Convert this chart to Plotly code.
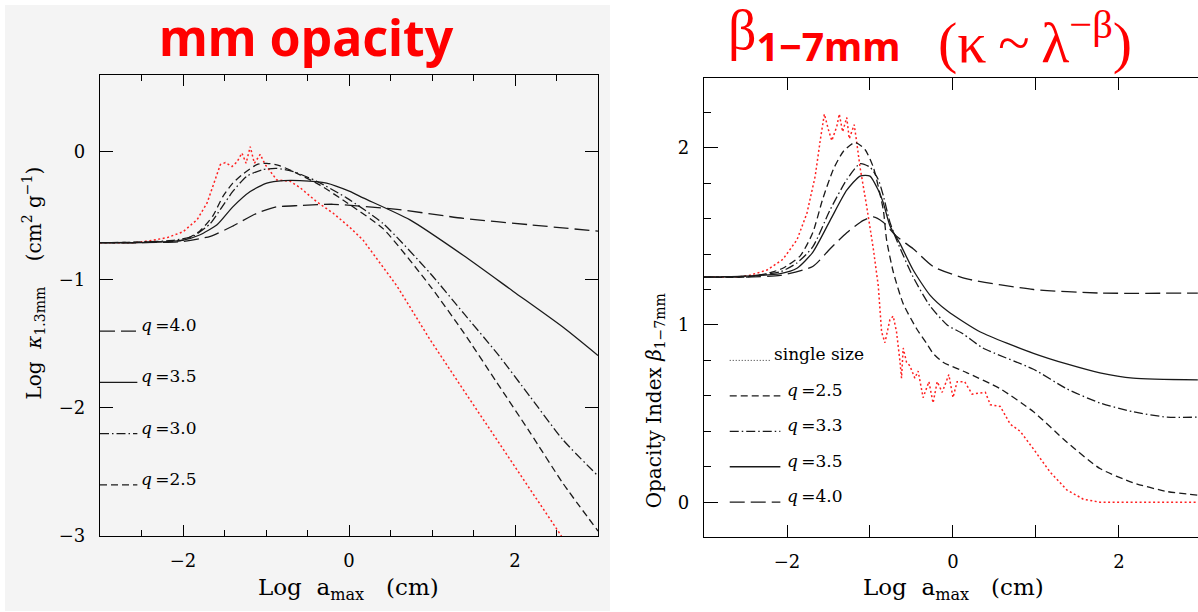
import plotly.graph_objects as go

W, H = 1198, 612          # reference picture size (layout coordinates are expressed in it)
FIG_H = 621               # rendered figure height (compensates the vertical squeeze seen in the photo)

# ---------------- data: left panel (log kappa_1.3mm vs log a_max) ----------------
L_single_x = [-3.0, -2.6, -2.4, -2.19, -2.0, -1.83, -1.71, -1.64, -1.59, -1.55, -1.49, -1.41, -1.35,
              -1.29, -1.24, -1.19, -1.14, -1.07, -1.01, -0.87, -0.71, -0.59, -0.39, -0.19, 0.01, 0.17,
              0.58, 0.98, 1.38, 1.78, 2.18, 2.56]
L_single_y = [-0.71, -0.71, -0.695, -0.67, -0.625, -0.53, -0.40, -0.27, -0.165, -0.10, -0.085, -0.115,
              -0.08, -0.01, -0.09, 0.04, -0.09, -0.02, -0.10, -0.22, -0.23, -0.28, -0.39, -0.48, -0.59,
              -0.69, -1.05, -1.47, -1.86, -2.25, -2.64, -3.0]

L_q25_x = [-3.0, -2.5, -2.0, -1.80, -1.64, -1.52, -1.40, -1.27, -1.11, -0.99, -0.83, -0.59, -0.35,
           -0.02, 0.41, 0.98, 1.38, 1.78, 2.18, 2.58, 3.0]
L_q25_y = [-0.71, -0.705, -0.69, -0.62, -0.50, -0.35, -0.245, -0.17, -0.10, -0.09, -0.11, -0.18, -0.26,
           -0.40, -0.60, -1.05, -1.41, -1.80, -2.19, -2.59, -2.96]

L_q30_x = [-3.0, -2.5, -2.1, -1.88, -1.67, -1.55, -1.40, -1.23, -1.04, -0.87, -0.67, -0.39, -0.03,
           0.41, 0.98, 1.38, 1.78, 2.18, 2.58, 3.0]
L_q30_y = [-0.71, -0.705, -0.69, -0.66, -0.56, -0.45, -0.31, -0.19, -0.14, -0.13, -0.155, -0.23, -0.36,
           -0.56, -0.95, -1.26, -1.57, -1.91, -2.25, -2.53]

L_q35_x = [-3.0, -2.5, -2.0, -1.80, -1.59, -1.40, -1.19, -0.99, -0.79, -0.59, -0.27, 0.01, 0.17, 0.73,
           1.38, 1.98, 2.58, 3.0]
L_q35_y = [-0.71, -0.71, -0.69, -0.65, -0.57, -0.43, -0.31, -0.245, -0.225, -0.225, -0.245, -0.31,
           -0.36, -0.53, -0.81, -1.09, -1.37, -1.59]

L_q40_x = [-3.0, -2.5, -2.0, -1.67, -1.40, -1.11, -0.87, -0.59, -0.19, 0.58, 1.38, 2.18, 3.0]
L_q40_y = [-0.71, -0.71, -0.70, -0.66, -0.58, -0.48, -0.43, -0.42, -0.41, -0.45, -0.52, -0.57, -0.62]

L_legend_labels = ["q=4.0", "q=3.5", "q=3.0", "q=2.5"]
L_legend_y = [-1.4, -1.8, -2.2, -2.6]

# ---------------- data: right panel (beta_1-7mm vs log a_max) ----------------
R_single_x = [-3.0, -2.6, -2.45, -2.24, -2.05, -1.88, -1.76, -1.66, -1.60, -1.55, -1.50, -1.46, -1.40,
              -1.37, -1.33, -1.28, -1.25, -1.22, -1.19, -1.16, -1.12, -1.04, -0.96, -0.90, -0.86, -0.82,
              -0.76, -0.72, -0.68, -0.64, -0.62, -0.60, -0.56, -0.52, -0.46, -0.42, -0.36, -0.29, -0.24,
              -0.19, -0.13, -0.05, 0.0, 0.05, 0.14, 0.23, 0.39, 0.45, 0.57, 0.69, 0.81, 0.97, 1.17, 1.37,
              1.57, 1.77, 2.2, 2.6, 2.95]
R_single_y = [1.27, 1.27, 1.28, 1.31, 1.37, 1.48, 1.63, 1.84, 2.04, 2.19, 2.10, 2.04, 2.12,
              2.19, 2.09, 2.17, 2.05, 2.09, 2.13, 2.03, 1.89, 1.67, 1.43, 1.22, 0.96, 0.90,
              1.03, 1.05, 0.96, 0.80, 0.70, 0.87, 0.79, 0.77, 0.70, 0.74, 0.59, 0.68, 0.56,
              0.68, 0.62, 0.72, 0.59, 0.68, 0.68, 0.61, 0.62, 0.55, 0.54, 0.44, 0.40, 0.30, 0.17, 0.07,
              0.017, 0.0, 0.0, 0.0, 0.0]

R_q25_x = [-3.0, -2.5, -2.24, -2.05, -1.84, -1.69, -1.57, -1.44, -1.32, -1.18, -1.06, -0.96, -0.84,
           -0.80, -0.72, -0.60, -0.44, -0.31, -0.24, -0.12, 0.17, 0.57, 0.97, 1.37, 1.77, 2.17, 2.58, 2.95]
R_q25_y = [1.27, 1.27, 1.29, 1.32, 1.39, 1.52, 1.71, 1.88, 1.98, 2.03, 1.99, 1.89, 1.65,
           1.48, 1.30, 1.12, 0.98, 0.89, 0.84, 0.79, 0.73, 0.64, 0.51, 0.34, 0.19, 0.11, 0.06, 0.04]

R_q33_x = [-3.0, -2.5, -2.08, -1.88, -1.69, -1.48, -1.28, -1.12, -1.0, -0.90, -0.84, -0.76, -0.68,
           -0.48, -0.28, -0.07, 0.12, 0.36, 0.97, 1.37, 1.77, 2.17, 2.58, 2.95]
R_q33_y = [1.27, 1.275, 1.30, 1.35, 1.44, 1.65, 1.82, 1.91, 1.89, 1.82, 1.73, 1.58, 1.48,
           1.27, 1.11, 1.00, 0.95, 0.87, 0.75, 0.64, 0.56, 0.51, 0.48, 0.48]

R_q35_x = [-3.0, -2.5, -2.08, -1.88, -1.69, -1.48, -1.28, -1.12, -1.0, -0.90, -0.84, -0.76, -0.64,
           -0.48, -0.28, -0.07, 0.33, 0.97, 1.37, 1.77, 2.17, 2.95]
R_q35_y = [1.27, 1.275, 1.29, 1.32, 1.41, 1.59, 1.76, 1.84, 1.84, 1.76, 1.69, 1.56, 1.46,
           1.31, 1.17, 1.08, 0.96, 0.84, 0.78, 0.73, 0.70, 0.69]

R_q40_x = [-3.0, -2.5, -2.08, -1.69, -1.48, -1.28, -1.08, -0.96, -0.84, -0.68, -0.48, -0.24, 0.17,
           0.97, 1.77, 2.95]
R_q40_y = [1.27, 1.27, 1.28, 1.33, 1.43, 1.52, 1.59, 1.61, 1.58, 1.50, 1.43, 1.33, 1.26,
           1.20, 1.18, 1.18]

R_legend_labels = ["single size", "q=2.5", "q=3.3", "q=3.5", "q=4.0"]
R_legend_y = [0.8, 0.6, 0.4, 0.2, 0.0]

# ---------------- styles ----------------
RED = "#ff2020"
BLK = "#1a1a1a"
DOT = "2px,2.5px"
DASH = "7px,4px"
DASHDOT = "9px,3px,1.5px,3px"
LONG = "15px,6px"
SERIF = "DejaVu Serif"

fig = go.Figure()


def add(x, y, dash, color, xa, ya, width=1.3, smooth=True):
    fig.add_trace(go.Scatter(
        x=x, y=y, mode="lines", xaxis=xa, yaxis=ya, showlegend=False, hoverinfo="skip",
        line=dict(color=color, width=width, dash=dash,
                  shape="spline" if smooth else "linear", smoothing=0.6 if smooth else None)))


# left panel curves
add(L_single_x, L_single_y, DOT, RED, "x", "y", 1.5, smooth=False)
add(L_q25_x, L_q25_y, DASH, BLK, "x", "y")
add(L_q30_x, L_q30_y, DASHDOT, BLK, "x", "y")
add(L_q35_x, L_q35_y, "solid", BLK, "x", "y")
add(L_q40_x, L_q40_y, LONG, BLK, "x", "y")

# right panel curves
add(R_single_x, R_single_y, DOT, RED, "x2", "y2", 1.5, smooth=False)
add(R_q25_x, R_q25_y, DASH, BLK, "x2", "y2")
add(R_q33_x, R_q33_y, DASHDOT, BLK, "x2", "y2")
add(R_q35_x, R_q35_y, "solid", BLK, "x2", "y2")
add(R_q40_x, R_q40_y, LONG, BLK, "x2", "y2")

annotations = []

# left legend
L_leg_dash = {"q=4.0": LONG, "q=3.5": "solid", "q=3.0": DASHDOT, "q=2.5": DASH}
for lab, yy in zip(L_legend_labels, L_legend_y):
    add([-3.0, -2.55], [yy, yy], L_leg_dash[lab], BLK, "x", "y", smooth=False)
    annotations.append(dict(x=-2.53, y=yy, xref="x", yref="y", xanchor="left", yanchor="middle",
                            yshift=6, showarrow=False,
                            text="<i>q</i>\u2009=" + lab.split("=")[1],
                            font=dict(family=SERIF, size=17, color="black")))

# right legend
R_leg_style = {"single size": (DOT, RED), "q=2.5": (DASH, BLK), "q=3.3": (DASHDOT, BLK),
               "q=3.5": ("solid", BLK), "q=4.0": (LONG, BLK)}
for lab, yy in zip(R_legend_labels, R_legend_y):
    dsh, col = R_leg_style[lab]
    if lab == "single size":
        add([-2.69, -2.2], [yy, yy], "1px,2px", "#333333", "x2", "y2", 1.0, smooth=False)
        txt, x0 = "single\u00a0size", -2.18
    else:
        add([-2.69, -2.08], [yy, yy], dsh, col, "x2", "y2", smooth=False)
        txt, x0 = "<i>q</i>\u2009=" + lab.split("=")[1], -2.03
    annotations.append(dict(x=x0, y=yy, xref="x2", yref="y2", xanchor="left", yanchor="middle",
                            yshift=6, showarrow=False, text=txt,
                            font=dict(family=SERIF, size=17, color="black")))

# titles
annotations.append(dict(x=306 / W, y=1 - 37 / H, xref="paper", yref="paper", showarrow=False,
                        xanchor="center", yanchor="middle", text="<b>mm opacity</b>",
                        font=dict(family="Noto Sans", size=50, color="#ff0000")))
annotations.append(dict(x=726 / W, y=1 - 36 / H, xref="paper", yref="paper", showarrow=False,
                        xanchor="left", yanchor="middle",
                        text="\u03b2<sub><span style='font-family:Noto Sans'><b>1\u22127mm</b></span></sub>",
                        font=dict(family="Liberation Serif", size=56, color="#ff0000")))
annotations.append(dict(x=936 / W, y=1 - 39 / H, xref="paper", yref="paper", showarrow=False,
                        xanchor="left", yanchor="middle",
                        text="(\u03ba\u2009~\u2009\u03bb<sup>\u2212\u03b2</sup>)",
                        font=dict(family="Liberation Serif", size=58, color="#ff0000")))

# axis titles
annotations.append(dict(x=348 / W, y=1 - 590 / H, xref="paper", yref="paper", showarrow=False,
                        xanchor="center", yanchor="middle",
                        text="Log\u00a0\u00a0a<sub>max</sub>\u00a0\u00a0\u00a0(cm)",
                        font=dict(family=SERIF, size=23, color="black")))
annotations.append(dict(x=953 / W, y=1 - 590 / H, xref="paper", yref="paper", showarrow=False,
                        xanchor="center", yanchor="middle",
                        text="Log\u00a0\u00a0a<sub>max</sub>\u00a0\u00a0\u00a0(cm)",
                        font=dict(family=SERIF, size=23, color="black")))
annotations.append(dict(x=34 / W, y=1 - 284 / H, xref="paper", yref="paper", showarrow=False,
                        xanchor="center", yanchor="middle", textangle=-90,
                        text="Log\u00a0\u00a0<i>\u03ba</i><sub>1.3mm</sub>\u00a0\u00a0\u00a0\u00a0(cm<sup>2</sup>\u00a0g<sup>\u22121</sup>)",
                        font=dict(family=SERIF, size=20, color="black")))
annotations.append(dict(x=655 / W, y=1 - 402 / H, xref="paper", yref="paper", showarrow=False,
                        xanchor="center", yanchor="middle", textangle=-90,
                        text="Opacity Index <i>\u03b2</i><sub>1\u22127mm</sub>",
                        font=dict(family=SERIF, size=20, color="black")))

# gray panel background (left)
shapes = [dict(type="rect", xref="paper", yref="paper", x0=5 / W, x1=610 / W, y0=0, y1=1 - 5 / H,
               fillcolor="#f4f4f4", line=dict(width=0), layer="below")]

axis_common = dict(showgrid=False, zeroline=False, showline=True, linecolor="black", linewidth=1.3,
                   ticks="inside", tickcolor="black", tickwidth=1.2,
                   tickfont=dict(family=SERIF, size=18, color="black"))

fig.update_layout(
    width=W, height=FIG_H, autosize=False, margin=dict(l=0, r=0, t=0, b=0, pad=0),
    paper_bgcolor="white", plot_bgcolor="rgba(0,0,0,0)",
    showlegend=False, annotations=annotations, shapes=shapes,
    xaxis=dict(domain=[100 / W, 598 / W], range=[-3, 3], anchor="y", mirror="allticks",
               tickmode="array", tickvals=[-2, 0, 2], ticklen=11, ticklabelstandoff=8,
               minor=dict(tickmode="linear", tick0=0, dtick=0.5, ticklen=6, ticks="inside",
                          tickcolor="black", tickwidth=1.0),
               **axis_common),
    yaxis=dict(domain=[1 - 537 / H, 1 - 75 / H], range=[-3.0, 0.6], anchor="x", mirror="allticks",
               tickmode="array", tickvals=[-3, -2, -1, 0], ticklen=13, ticklabelstandoff=10,
               **axis_common),
    xaxis2=dict(domain=[704 / W, 1.0], range=[-3, 2.952], anchor="y2", mirror="allticks",
                tickmode="array", tickvals=[-2, -1, 0, 1, 2], ticktext=["\u22122", "", "0", "", "2"],
                ticklen=12, ticklabelstandoff=8, **axis_common),
    yaxis2=dict(domain=[1 - 538 / H, 1 - 78 / H], range=[-0.197, 2.394], anchor="x2", mirror=False,
                tickmode="array", tickvals=[0, 1, 2], ticklen=14, ticklabelstandoff=10,
                minor=dict(tickmode="linear", tick0=0, dtick=0.2, ticklen=7, ticks="inside",
                           tickcolor="black", tickwidth=1.0),
                **axis_common),
)

PAGE_FIX = (
    "var h=document.documentElement,b=document.body;"
    "h.style.margin='0';b.style.margin='0';h.style.padding='0';b.style.padding='0';"
    "h.style.overflow='hidden';b.style.overflow='hidden';"
)

fig.write_html("out.html", config={"displayModeBar": False, "responsive": False},
               post_script=PAGE_FIX)
